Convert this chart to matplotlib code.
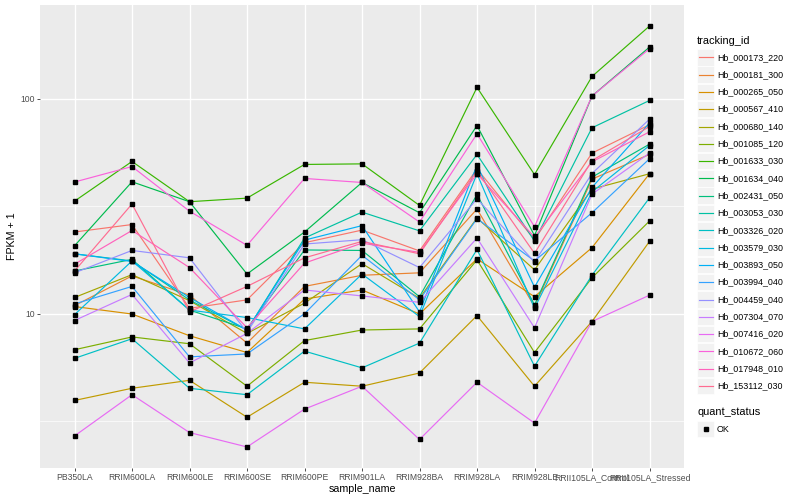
import matplotlib
matplotlib.use("Agg")
import matplotlib.pyplot as plt
from matplotlib.patches import Rectangle
from matplotlib.lines import Line2D
from matplotlib.ticker import FixedLocator, NullFormatter

plt.rcParams['font.family'] = ['Liberation Sans', 'DejaVu Sans']

# samples on the x axis
samples = ["PB350LA", "RRIM600LA", "RRIM600LE", "RRIM600SE", "RRIM600PE",
           "RRIM901LA", "RRIM928BA", "RRIM928LA", "RRIM928LE",
           "RRII105LA_Control", "RRII105LA_Stressed"]

# FPKM + 1 per gene (one value per sample)
hb_000173_220 = [24.0, 26.0, 10.6, 11.6, 21.4, 24.5, 19.6, 47.2, 22.1, 55.9, 75.7]
hb_000181_300 = [10.9, 15.0, 12.2, 7.3, 13.4, 15.1, 15.5, 30.7, 10.8, 42.3, 55.1]
hb_000265_050 = [10.8, 9.97, 7.9, 6.6, 11.7, 12.9, 9.97, 18.0, 12.0, 20.3, 44.8]
hb_000567_410 = [3.95, 4.5, 4.9, 3.3, 4.8, 4.6, 5.3, 9.8, 4.6, 9.2, 21.7]
hb_000680_140 = [11.9, 15.2, 11.5, 8.1, 11.2, 17.1, 11.8, 27.9, 16.0, 38.0, 44.8]
hb_001085_120 = [6.8, 7.8, 7.25, 4.6, 7.5, 8.4, 8.5, 17.8, 6.6, 14.7, 27.0]
hb_001633_030 = [33.4, 51.1, 33.2, 34.5, 49.5, 49.8, 31.9, 113.0, 44.4, 127.0, 218.0]
hb_001634_040 = [20.7, 41.1, 33.2, 15.3, 24.0, 40.8, 29.5, 75.1, 23.1, 103.0, 174.0]
hb_002431_050 = [15.8, 17.9, 10.4, 8.5, 19.8, 19.7, 12.0, 35.9, 11.0, 43.2, 61.5]
hb_003053_030 = [19.0, 17.6, 11.6, 8.4, 22.5, 29.7, 24.3, 55.1, 21.8, 73.3, 98.2]
hb_003326_020 = [6.2, 7.65, 4.5, 4.2, 6.7, 5.6, 7.3, 19.9, 5.7, 15.1, 34.6]
hb_003579_030 = [9.9, 17.6, 10.4, 9.6, 8.5, 15.3, 9.7, 44.8, 10.6, 36.9, 60.6]
hb_003893_050 = [19.0, 17.5, 11.9, 8.4, 22.0, 25.7, 10.2, 49.1, 13.3, 38.7, 77.1]
hb_003994_040 = [11.1, 13.4, 6.3, 6.5, 10.0, 18.7, 11.6, 27.7, 17.6, 29.5, 52.6]
hb_004459_040 = [15.5, 19.7, 18.2, 8.2, 21.1, 22.1, 16.4, 34.3, 17.4, 44.9, 80.4]
hb_007304_070 = [9.3, 12.3, 5.9, 8.1, 12.9, 12.1, 11.3, 22.5, 8.6, 36.0, 55.9]
hb_007416_020 = [2.7, 4.2, 2.8, 2.4, 3.6, 4.6, 2.6, 4.8, 3.1, 9.2, 12.2]
hb_010672_060 = [41.0, 48.4, 30.0, 20.8, 42.6, 40.8, 26.7, 68.7, 25.4, 103.0, 171.0]
hb_017948_010 = [17.0, 24.4, 16.4, 8.6, 17.2, 21.3, 19.3, 44.8, 22.7, 50.9, 70.2]
hb_153112_030 = [15.8, 32.4, 10.2, 13.4, 18.2, 21.7, 19.0, 46.2, 19.1, 51.6, 74.3]

tracking_ids = ["Hb_000173_220", "Hb_000181_300", "Hb_000265_050", "Hb_000567_410",
                "Hb_000680_140", "Hb_001085_120", "Hb_001633_030", "Hb_001634_040",
                "Hb_002431_050", "Hb_003053_030", "Hb_003326_020", "Hb_003579_030",
                "Hb_003893_050", "Hb_003994_040", "Hb_004459_040", "Hb_007304_070",
                "Hb_007416_020", "Hb_010672_060", "Hb_017948_010", "Hb_153112_030"]
series = [hb_000173_220, hb_000181_300, hb_000265_050, hb_000567_410,
          hb_000680_140, hb_001085_120, hb_001633_030, hb_001634_040,
          hb_002431_050, hb_003053_030, hb_003326_020, hb_003579_030,
          hb_003893_050, hb_003994_040, hb_004459_040, hb_007304_070,
          hb_007416_020, hb_010672_060, hb_017948_010, hb_153112_030]

# ggplot default hue palette for 20 levels
colors = ["#F8766D", "#EA8331", "#D89000", "#C09B00", "#A3A500", "#7CAE00",
          "#39B600", "#00BB4E", "#00BF7D", "#00C1A3", "#00BFC4", "#00BAE0",
          "#00B0F6", "#35A2FF", "#9590FF", "#C77CFF", "#E76BF3", "#FA62DB",
          "#FF62BC", "#FF6C91"]

W, H = 800, 500
fig = plt.figure(figsize=(W / 100, H / 100), dpi=100)
# panel box in pixels: x 40..684, y 5..468
ax = fig.add_axes([40 / W, 1 - 468 / H, (684 - 40) / W, (468 - 5) / H])
ax.set_facecolor("#EBEBEB")
for s in ax.spines.values():
    s.set_visible(False)

xs = list(range(len(samples)))
for vals, col in zip(series, colors):
    ax.plot(xs, vals, color=col, lw=0.85, zorder=3)
for vals in series:
    ax.plot(xs, vals, ls="none", marker="s", ms=2.3, color="black", zorder=4)

ax.set_yscale("log")
ax.margins(y=0.05)
ax.set_xlim(-0.6, len(samples) - 0.4)
ax.set_xticks(xs)
ax.set_xticklabels(samples)
ax.yaxis.set_major_locator(FixedLocator([10, 100]))
ax.yaxis.set_minor_locator(FixedLocator([10 ** 0.5, 10 ** 1.5, 10 ** 2.5]))
ax.yaxis.set_minor_formatter(NullFormatter())
ax.set_yticklabels(["10", "100"])
ax.grid(True, which="major", color="white", lw=1.0, zorder=0)
ax.grid(True, which="minor", axis="y", color="white", lw=0.5, zorder=0)
ax.set_axisbelow(True)
ax.tick_params(axis="both", which="major", length=2.2, width=0.6, color="#333333",
               labelcolor="#4D4D4D", labelsize=6.2, pad=1.2)
ax.tick_params(axis="y", which="minor", length=0)
ax.set_xlabel("sample_name", fontsize=7.7, labelpad=1.5)
ax.set_ylabel("FPKM + 1", fontsize=7.7, labelpad=3)

# legend drawn in pixel space on an overlay
lax = fig.add_axes([0, 0, 1, 1])
lax.set_xlim(0, W)
lax.set_ylim(H, 0)
lax.axis("off")
lax.text(697, 40.5, "tracking_id", fontsize=7.9, va="center", ha="left")
y0, dy = 57.3, 17.3
for i, (tid, col) in enumerate(zip(tracking_ids, colors)):
    yc = y0 + i * dy
    lax.add_patch(Rectangle((697, yc - dy / 2 + 0.4), 17, dy - 0.8,
                            facecolor="#F2F2F2", edgecolor="white", lw=0.5))
    lax.add_line(Line2D([698.5, 712.5], [yc, yc], color=col, lw=0.85))
    lax.text(717, yc, tid, fontsize=6.4, va="center", ha="left")
lax.text(697, 412, "quant_status", fontsize=7.9, va="center", ha="left")
yc = 429
lax.add_patch(Rectangle((697, yc - dy / 2 + 0.4), 17, dy - 0.8,
                        facecolor="#F2F2F2", edgecolor="white", lw=0.5))
lax.plot([705.5], [yc], marker="s", ms=2.3, color="black")
lax.text(717, yc, "OK", fontsize=6.4, va="center", ha="left")

fig.savefig("out.png", dpi=100)
